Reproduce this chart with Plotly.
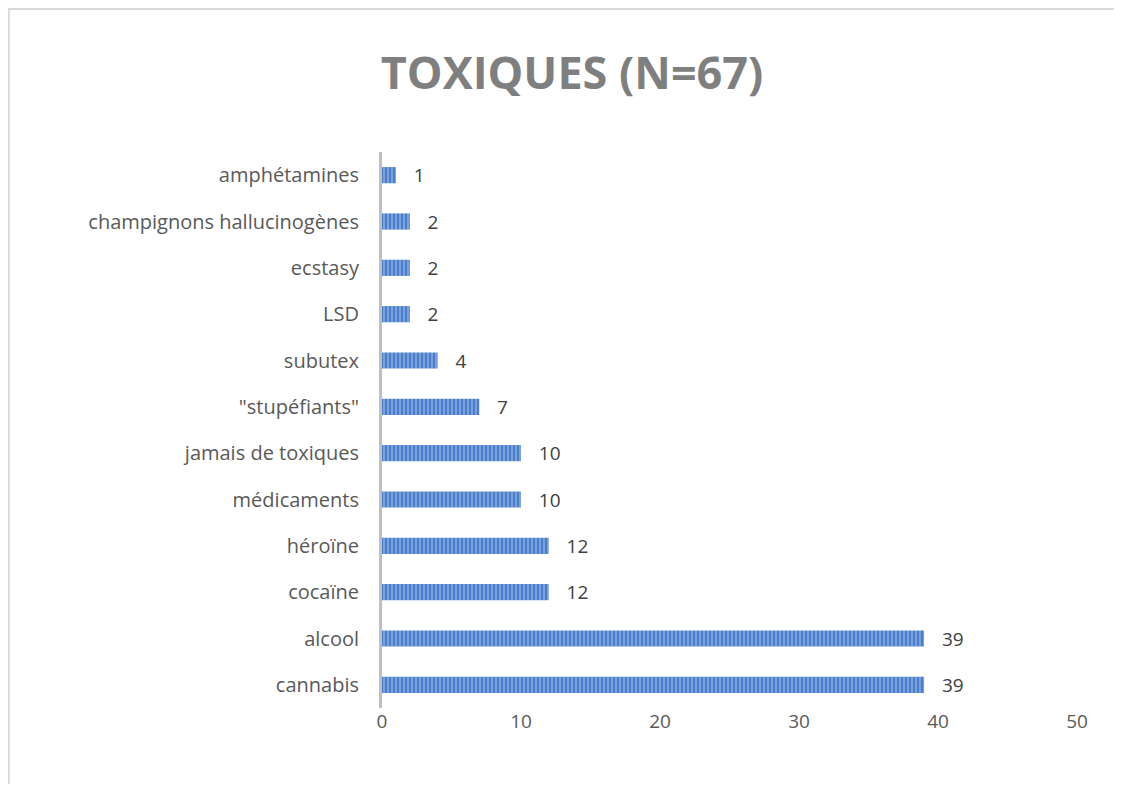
import plotly.graph_objects as go

# data
categories = ["amphétamines", "champignons hallucinogènes", "ecstasy", "LSD", "subutex",
              '"stupéfiants"', "jamais de toxiques", "médicaments", "héroïne", "cocaïne",
              "alcool", "cannabis"]
counts = [1, 2, 2, 2, 4, 7, 10, 10, 12, 12, 39, 39]

fig = go.Figure()

fig.add_trace(go.Bar(
    x=counts,
    y=categories,
    orientation="h",
    width=0.35,
    marker=dict(
        color="#4a7ecb",
        line=dict(width=0),
        pattern=dict(shape="|", fgcolor="#b3cdf0", bgcolor="#4a7ecb", size=4, solidity=0.45),
    ),
    text=counts,
    texttemplate="   %{x}",
    textposition="outside",
    constraintext="none",
    textfont=dict(family="Open Sans", size=19, color="#404040"),
    cliponaxis=False,
))

fig.update_layout(
    width=1106, height=776,
    margin=dict(l=374, r=37, t=144, b=76),
    paper_bgcolor="white",
    plot_bgcolor="white",
    showlegend=False,
    title=dict(
        text="<b>TOXIQUES (N=67)</b>",
        x=0.51, xanchor="center",
        y=0.916, yanchor="middle",
        font=dict(family="Open Sans", size=45, color="#7f7f7f"),
    ),
    font=dict(family="Open Sans", size=20, color="#595959"),
)

fig.update_xaxes(
    range=[0, 50], dtick=10, showgrid=False, zeroline=False,
    showline=False, ticks="", ticklen=0,
    tickfont=dict(size=19, color="#595959"),
)
fig.update_yaxes(
    categoryorder="array", categoryarray=categories[::-1],
    showgrid=False, showline=True, linecolor="#bfbfbf", linewidth=3,
    ticks="", ticklabelstandoff=16,
    tickfont=dict(size=20, color="#595959"),
)

# outer chart border
fig.add_shape(type="rect", xref="paper", yref="paper",
              x0=-0.537, x1=1.2, y0=-0.3, y1=1.257,
              line=dict(color="#d9d9d9", width=2), fillcolor="rgba(0,0,0,0)", layer="below")

fig.write_html("out.html")
